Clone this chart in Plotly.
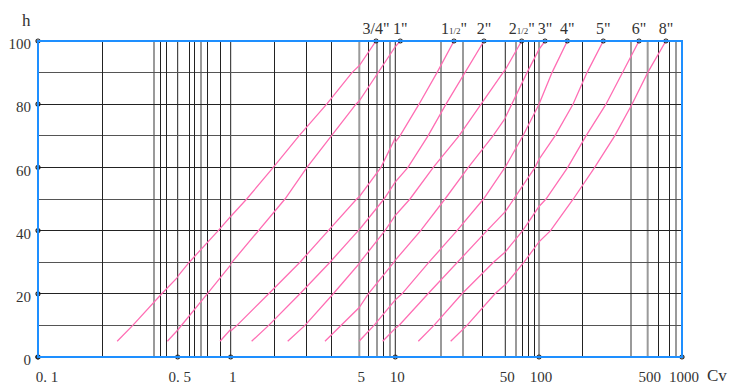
import math
import plotly.graph_objects as go

# ---------------- data ----------------
H = [5, 10, 20, 30, 40, 50, 60, 70, 80, 90, 100]          # lift h (%)

SIZE_LABELS = ['3/4"', '1"', '1<span style="font-size:9px">1/2</span>"', '2"',
               '2<span style="font-size:9px">1/2</span>"', '3"', '4"', '5"', '6"', '8"']

CV_3_4 = [0.249, 0.298, 0.416, 0.582, 0.850, 1.222, 1.704, 2.351, 3.325, 4.564, 6.90]
CV_1   = [0.444, 0.524, 0.736, 1.029, 1.425, 1.973, 2.598, 3.540, 4.797, 7.17, 10.76]
CV_1H  = [0.870, 1.082, 1.609, 2.380, 3.392, 4.840, 7.59, 10.71, 14.15, 18.41, 23.61]
CV_2   = [1.300, 1.609, 2.380, 3.465, 4.938, 8.05, 12.04, 16.14, 21.00, 27.73, 36.62]
CV_2H  = [2.041, 2.534, 3.611, 5.07, 8.20, 12.40, 17.44, 25.40, 35.04, 48.35, 70.0]
CV_3   = [3.254, 3.962, 5.95, 9.75, 14.50, 20.70, 29.11, 41.77, 57.4, 78.1, 109.3]
CV_4   = [4.983, 6.64, 11.03, 16.37, 24.67, 36.36, 49.8, 71.9, 100.0, 121.2, 152.1]
CV_5   = [7.85, 10.56, 16.14, 24.85, 38.26, 59.8, 92.1, 126.7, 165.4, 203.5, 259.1]
CV_6   = [14.00, 17.62, 26.54, 42.08, 71.5, 110.9, 153.0, 200.6, 269.7, 344.3, 439.7]
CV_8   = [22.49, 28.55, 43.01, 73.4, 118.6, 166.2, 228.1, 306.8, 396.4, 500.0, 723.0]

CURVES = [CV_3_4, CV_1, CV_1H, CV_2, CV_2H, CV_3, CV_4, CV_5, CV_6, CV_8]

# labelled Cv values on the (stretched) logarithmic scale of the chart
X_TICKS = [0.1, 0.5, 1, 5, 10, 50, 100, 500, 1000]
X_TICK_TEXT = ['0. 1', '0. 5', '1', '5', '10', '50', '100', '500', '1000']
Y_TICKS = [0, 20, 40, 60, 80, 100]
Y_MINOR = [10, 30, 50, 70, 90]

# vertical grid lines of the printed chart (dark and light ones)
GRID_DARK = [0.21, 0.41, 0.44, 0.5, 0.58, 0.62, 0.74, 0.88, 1, 1.73, 2.59, 3.54,
             6, 8, 10, 36, 50, 71, 81, 91.5, 190, 620, 780]
GRID_LIGHT = [0.38, 0.675, 5, 7, 9, 19.4, 26.8, 62, 100, 389, 500, 888]

# ---------------- style ----------------
PINK = '#FF6EB4'
BLUE = '#1E8FFF'
DARK = '#222222'
LIGHT = '#9a9a9a'
TXT = '#333333'
FONT = 'Liberation Serif'
# horizontal share of the plot taken by each labelled interval of the printed scale
DOMAIN_EDGES = [0.0, 0.2169, 0.2992, 0.4989, 0.5548, 0.7256, 0.7780, 0.9467, 1.0]

fig = go.Figure()
nseg = len(X_TICKS) - 1


def axname(k):
    return 'x' if k == 0 else 'x%d' % (k + 1)


def seg_of(v):
    for k in range(nseg):
        if X_TICKS[k] <= v < X_TICKS[k + 1]:
            return k
    return nseg - 1


layout_axes = {}
edge_shapes = []
for k in range(nseg):
    v0, v1 = X_TICKS[k], X_TICKS[k + 1]
    dark = [g for g in GRID_DARK if v0 < g < v1]
    light = [g for g in GRID_LIGHT if v0 < g < v1]
    tv = [v0] + dark
    tt = [X_TICK_TEXT[k]] + [''] * len(dark)
    if k == nseg - 1:
        tv.append(v1)
        tt.append(X_TICK_TEXT[k + 1])
    key = 'xaxis' if k == 0 else 'xaxis%d' % (k + 1)
    layout_axes[key] = dict(
        type='log', range=[math.log10(v0), math.log10(v1)],
        domain=[DOMAIN_EDGES[k], DOMAIN_EDGES[k + 1]], anchor='y',
        tickmode='array', tickvals=tv, ticktext=tt, ticks='',
        showgrid=True, gridcolor=DARK, gridwidth=1,
        minor=dict(tickmode='array', tickvals=light, showgrid=True,
                   gridcolor=LIGHT, gridwidth=2, ticks=''),
        showline=False, zeroline=False, fixedrange=True, automargin=False,
        tickfont=dict(family=FONT, size=15, color=TXT),
        ticklabelstandoff=9, ticklabelshift=9 if k == 0 else 2,
    )
    if k > 0:
        # grid line on the boundary between two intervals
        col, w = (LIGHT, 2) if v0 in GRID_LIGHT else (DARK, 1)
        edge_shapes.append(dict(type='line', xref='paper', yref='paper',
                                x0=DOMAIN_EDGES[k], x1=DOMAIN_EDGES[k], y0=0, y1=1,
                                line=dict(color=col, width=w), layer='below'))

# curves: each drawn on every interval axis (clipped to that interval)
for k in range(nseg):
    for cv in CURVES:
        fig.add_trace(go.Scatter(x=cv, y=H, mode='lines',
                                 line=dict(color=PINK, width=1.3),
                                 xaxis=axname(k), yaxis='y',
                                 hoverinfo='skip', showlegend=False))

dot = dict(symbol='circle-open', size=4, color='#222', line=dict(width=1.2))
# tick dots on the bottom axis
for k in range(nseg):
    xs = [X_TICKS[k]] + ([X_TICKS[k + 1]] if k == nseg - 1 else [])
    fig.add_trace(go.Scatter(x=xs, y=[0] * len(xs), mode='markers', marker=dot,
                             xaxis=axname(k), yaxis='y', cliponaxis=False,
                             hoverinfo='skip', showlegend=False))
# tick dots on the left axis
fig.add_trace(go.Scatter(x=[X_TICKS[0]] * len(Y_TICKS), y=Y_TICKS, mode='markers',
                         marker=dot, xaxis='x', yaxis='y', cliponaxis=False,
                         hoverinfo='skip', showlegend=False))

# size labels at the upper ends of the curves
for lab, cv in zip(SIZE_LABELS, CURVES):
    v = cv[-1]
    fig.add_trace(go.Scatter(x=[v], y=[H[-1]], mode='markers+text', text=[lab],
                             textposition='top center',
                             textfont=dict(family=FONT, size=16, color=TXT),
                             marker=dot, xaxis=axname(seg_of(v)), yaxis='y',
                             cliponaxis=False, hoverinfo='skip', showlegend=False))

fig.update_layout(
    width=732, height=392,
    margin=dict(l=38, r=50, t=41, b=35, autoexpand=False),
    paper_bgcolor='white', plot_bgcolor='white',
    hovermode=False, showlegend=False,
    yaxis=dict(range=[0, 100], domain=[0, 1], anchor='x',
               tickmode='array', tickvals=Y_TICKS, ticktext=[str(v) for v in Y_TICKS],
               ticks='', showgrid=True, gridcolor=DARK, gridwidth=1,
               minor=dict(tickmode='array', tickvals=Y_MINOR,
                          showgrid=True, gridcolor='#555', gridwidth=1, ticks=''),
               zeroline=False, showline=False, fixedrange=True, automargin=False,
               tickfont=dict(family=FONT, size=15, color=TXT),
               ticklabelstandoff=6, ticklabelshift=3),
    shapes=edge_shapes + [dict(type='rect', xref='paper', yref='paper',
                               x0=0, y0=0, x1=1, y1=1,
                               line=dict(color=BLUE, width=2), layer='above')],
    annotations=[
        dict(text='h', xref='paper', yref='paper', x=-0.0175, y=1.064,
             xanchor='center', yanchor='middle',
             showarrow=False, font=dict(family=FONT, size=17, color=TXT)),
        dict(text='Cv', xref='paper', yref='paper', x=1.055, y=-0.057,
             xanchor='center', yanchor='middle',
             showarrow=False, font=dict(family=FONT, size=17, color=TXT)),
    ],
    **layout_axes,
)

fig.write_html('out.html')
